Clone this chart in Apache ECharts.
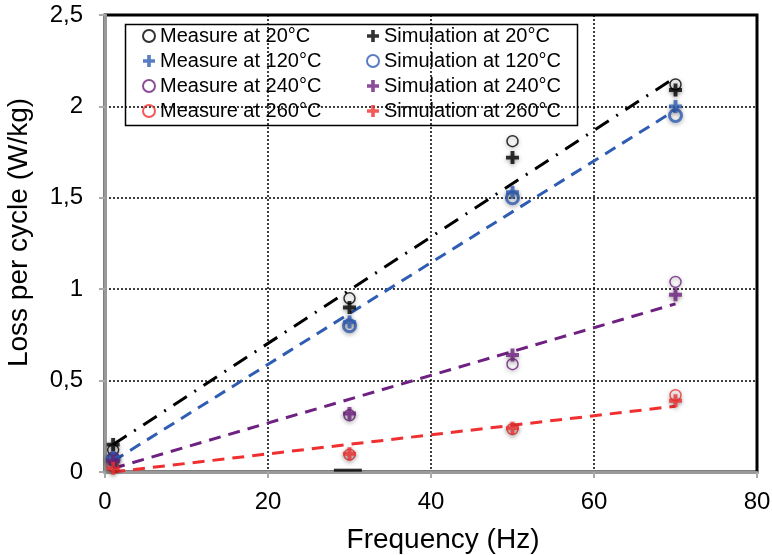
<!DOCTYPE html>
<html>
<head>
<meta charset="utf-8">
<script src="https://cdn.jsdelivr.net/npm/echarts@6/dist/echarts.min.js"></script>
<style>html,body{margin:0;padding:0;background:#fff}#c{width:772px;height:555px}</style>
</head>
<body>
<div id="c"></div>
<script>
// ---- data ----
const freq = [1, 30, 50, 70];
const meas20 = [0.12, 0.95, 1.81, 2.12];
const sim20 = [0.15, 0.90, 1.72, 2.09];
const meas120 = [0.08, 0.82, 1.53, 2.00];
const sim120 = [0.07, 0.80, 1.50, 1.95];
const meas240 = [0.08, 0.31, 0.59, 1.04];
const sim240 = [0.06, 0.32, 0.64, 0.97];
const meas260 = [0.03, 0.095, 0.235, 0.42];
const sim260 = [0.02, 0.10, 0.24, 0.39];
const trendX = [1, 70];
const trend20 = [0.15, 2.16];
const trend120 = [0.06, 1.98];
const trend240 = [0.02, 0.92];
const trend260 = [0.0, 0.36];
const strayMark = [[29.8, 0.01]];
const xTicks = [0, 20, 40, 60, 80];
const yTickLabels = {0: '0', 0.5: '0,5', 1: '1', 1.5: '1,5', 2: '2', 2.5: '2,5'};

const FONT = '"Liberation Sans", Arial, sans-serif';
const PLUS = 'path://M3.5,0H6.5V3.5H10V6.5H6.5V10H3.5V6.5H0V3.5H3.5Z';
const C_BLACK = '#000000', C_BLUE = '#2f5db3', C_PURPLE = '#6e2180', C_RED = '#f03030';

function pts(ys) { return freq.map((x, i) => [x, ys[i]]); }
function tpts(ys) { return trendX.map((x, i) => [x, ys[i]]); }
const shadow = {shadowBlur: 4, shadowColor: 'rgba(0,0,0,0.45)', shadowOffsetY: 1.5};

function circleSeries(name, ys, color, lw, size) {
  return {name, type: 'scatter', data: pts(ys), symbol: 'circle', symbolSize: size,
    itemStyle: Object.assign({color: 'rgba(255,255,255,0)', borderColor: color, borderWidth: lw}, shadow), z: 5};
}
function plusSeries(name, ys, color, size) {
  return {name, type: 'scatter', data: pts(ys), symbol: PLUS, symbolSize: size,
    itemStyle: Object.assign({color: color}, shadow), z: 6};
}
function trendSeries(ys, color, type) {
  return {type: 'line', data: tpts(ys), showSymbol: false, silent: true, z: 3,
    lineStyle: {color, width: 3, type}};
}
const legendBase = {orient: 'vertical', top: 21, itemWidth: 12, itemHeight: 12, itemGap: 5,
  itemStyle: {shadowBlur: 0, shadowOffsetY: 0, shadowColor: 'rgba(0,0,0,0)'},
  textStyle: {fontFamily: FONT, fontSize: 20, color: '#000'}};

const chart = echarts.init(document.getElementById('c'));
chart.setOption({
  animation: false,
  backgroundColor: '#fff',
  grid: {left: 105, right: 15, top: 15, bottom: 83, containLabel: false, outerBoundsMode: 'none',
    show: true, borderColor: '#000', borderWidth: 3},
  xAxis: {
    type: 'value', min: 0, max: 80, interval: 20,
    name: 'Frequency (Hz)', nameLocation: 'middle', nameGap: 54,
    nameTextStyle: {fontFamily: FONT, fontSize: 28, color: '#000', padding: [0, 0, 0, 24]},
    axisLine: {show: true, lineStyle: {color: '#999', width: 3}},
    axisTick: {show: true, length: 6, lineStyle: {color: '#aaa', width: 2}},
    axisLabel: {fontFamily: FONT, fontSize: 24, color: '#000', margin: 18},
    splitLine: {show: true, lineStyle: {color: '#000', type: [2, 2], width: 1.5}}
  },
  yAxis: {
    type: 'value', min: 0, max: 2.5, interval: 0.5,
    name: 'Loss per cycle (W/kg)', nameLocation: 'middle', nameGap: 72,
    nameTextStyle: {fontFamily: FONT, fontSize: 28, color: '#000', padding: [0, 0, 0, 22]},
    axisLine: {show: true, lineStyle: {color: '#999', width: 3}},
    axisTick: {show: true, length: 6, lineStyle: {color: '#aaa', width: 2}},
    axisLabel: {fontFamily: FONT, fontSize: 24, color: '#000', margin: 22,
      formatter: v => yTickLabels[Math.round(v * 10) / 10] ?? String(v)},
    splitLine: {show: true, lineStyle: {color: '#000', type: [2, 2], width: 1.5}}
  },
  legend: [
    Object.assign({left: 137, data: ['Measure at 20°C', 'Measure at 120°C', 'Measure at 240°C', 'Measure at 260°C']}, legendBase),
    Object.assign({left: 361, data: ['Simulation at 20°C', 'Simulation at 120°C', 'Simulation at 240°C', 'Simulation at 260°C']}, legendBase)
  ],
  graphic: [
    {type: 'rect', left: 123, top: 22, shape: {width: 452, height: 101},
      style: {fill: 'none', stroke: '#000', lineWidth: 1.5}, z: 10}
  ],
  series: [
    trendSeries(trend20, C_BLACK, [16, 9, 2, 9]),
    trendSeries(trend120, C_BLUE, [12, 8]),
    trendSeries(trend240, C_PURPLE, [12, 8]),
    trendSeries(trend260, C_RED, [12, 8]),
    {type: 'scatter', data: strayMark, symbol: 'rect', symbolSize: [28, 3], silent: true,
      itemStyle: {color: '#000'}, z: 4},
    circleSeries('Measure at 20°C', meas20, C_BLACK, 1.5, 11),
    plusSeries('Simulation at 20°C', sim20, C_BLACK, 13),
    plusSeries('Measure at 120°C', meas120, C_BLUE, 13),
    circleSeries('Simulation at 120°C', sim120, C_BLUE, 3, 12),
    circleSeries('Measure at 240°C', meas240, C_PURPLE, 1.5, 11),
    plusSeries('Simulation at 240°C', sim240, C_PURPLE, 13),
    circleSeries('Measure at 260°C', meas260, C_RED, 1.5, 11),
    plusSeries('Simulation at 260°C', sim260, C_RED, 13)
  ]
});
</script>
</body>
</html>
